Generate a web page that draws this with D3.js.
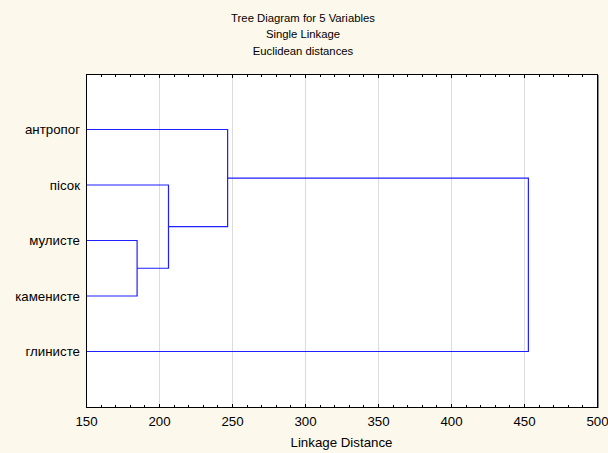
<!DOCTYPE html>
<html>
<head>
<meta charset="utf-8">
<script src="https://cdn.jsdelivr.net/npm/d3@7"></script>
<style>
  html, body { margin: 0; padding: 0; background: #fdf8ec; }
  text { font-family: "Liberation Sans", Arial, sans-serif; fill: #000; }
</style>
</head>
<body>
<div id="chart"></div>
<script>
// dendrogramma: single linkage, distanze euclidee
const titoli = ['Tree Diagram for 5 Variables', 'Single Linkage', 'Euclidean distances'];
const etichetteX = 'Linkage Distance';

// foglie dall'alto verso il basso
const foglie = ['антропог', 'пісок', 'мулисте', 'каменисте', 'глинисте'];

// fusioni: [figlio a, figlio b, distanza]  (c0, c1... = cluster creati prima)
const fusioni = [
    ['мулисте', 'каменисте', 185],
    ['пісок', 'c0', 206.5],
    ['антропог', 'c1', 247],
    ['c2', 'глинисте', 453]
];

const tickX = [150, 200, 250, 300, 350, 400, 450, 500];
const dominioX = [150, 500];

const width = 608, height = 453;
const margin = { top: 74, right: 11, bottom: 46, left: 86 };
const w = width - margin.left - margin.right;
const h = height - margin.top - margin.bottom;
const font = '13.3px';

const svg = d3.select('#chart').append('svg')
    .attr('width', width)
    .attr('height', height);

// titoli (più piccoli del resto)
svg.selectAll('.titolo')
    .data(titoli)
    .join('text')
    .attr('class', 'titolo')
    .attr('x', 303)
    .attr('y', (d, i) => 21.5 + i * 16.5)
    .attr('text-anchor', 'middle')
    .style('font-size', '11.3px')
    .text(d => d);

const g = svg.append('g')
    .attr('transform', `translate(${margin.left},${margin.top})`);

const x = d3.scaleLinear().domain(dominioX).range([0, w]);
const y = d3.scalePoint().domain(foglie).range([0, h]).padding(1);

// area bianca
g.append('rect')
    .attr('width', w).attr('height', h)
    .attr('fill', '#fff');

// griglia verticale
g.selectAll('.griglia')
    .data(tickX.slice(1, -1))
    .join('line')
    .attr('class', 'griglia')
    .attr('x1', d => Math.round(x(d)) + 0.5).attr('x2', d => Math.round(x(d)) + 0.5)
    .attr('y1', 0).attr('y2', h)
    .attr('stroke', '#dcdcdc')
    .attr('stroke-width', 1);

// posizioni dei nodi: foglie a x=min dominio
const nodi = {};
foglie.forEach(f => { nodi[f] = { x: x(dominioX[0]), y: y(f) }; });

const rami = g.append('g');
fusioni.forEach((fz, i) => {
    const a = nodi[fz[0]], b = nodi[fz[1]];
    const xm = x(fz[2]);
    rami.append('path')
        .attr('d', d3.line()([[a.x, a.y], [xm, a.y], [xm, b.y], [b.x, b.y]]))
        .attr('fill', 'none')
        .attr('stroke', '#1f1fff')
        .attr('stroke-width', 1.2);
    nodi['c' + i] = { x: xm, y: (a.y + b.y) / 2 };
});

// cornice con ombra a destra
g.append('line')
    .attr('x1', w + 1.5).attr('x2', w + 1.5)
    .attr('y1', 1).attr('y2', h + 1)
    .attr('stroke', '#888').attr('stroke-width', 1);
g.append('rect')
    .attr('x', 0.5).attr('y', 0.5)
    .attr('width', w).attr('height', h)
    .attr('fill', 'none')
    .attr('stroke', '#000');

// tacche interne sopra e sotto (minori ogni 10)
const minori = d3.range(dominioX[0], dominioX[1] + 1, 10);
const tacche = g.append('g');
minori.forEach(v => {
    const major = v % 50 === 0;
    const len = major ? 4 : 3;
    const xx = Math.round(x(v)) + 0.5;
    tacche.append('line')
        .attr('x1', xx).attr('x2', xx).attr('y1', 0).attr('y2', len)
        .attr('stroke', '#000');
    tacche.append('line')
        .attr('x1', xx).attr('x2', xx).attr('y1', h - len + 1).attr('y2', h + 1)
        .attr('stroke', '#000');
});

// asse x (solo etichette)
const asseX = g.append('g')
    .attr('transform', `translate(0,${h})`)
    .call(d3.axisBottom(x).tickValues(tickX).tickSize(0).tickPadding(10));
asseX.select('.domain').remove();
asseX.selectAll('text').style('font-size', font).style('font-family', '"Liberation Sans", Arial, sans-serif');

// etichette delle foglie
const asseY = g.append('g')
    .call(d3.axisLeft(y).tickSize(0).tickPadding(6));
asseY.select('.domain').remove();
asseY.selectAll('text').style('font-size', font).style('font-family', '"Liberation Sans", Arial, sans-serif');

// titolo asse x
svg.append('text')
    .attr('x', margin.left + w / 2)
    .attr('y', 447)
    .attr('text-anchor', 'middle')
    .style('font-size', font)
    .text(etichetteX);
</script>
</body>
</html>
